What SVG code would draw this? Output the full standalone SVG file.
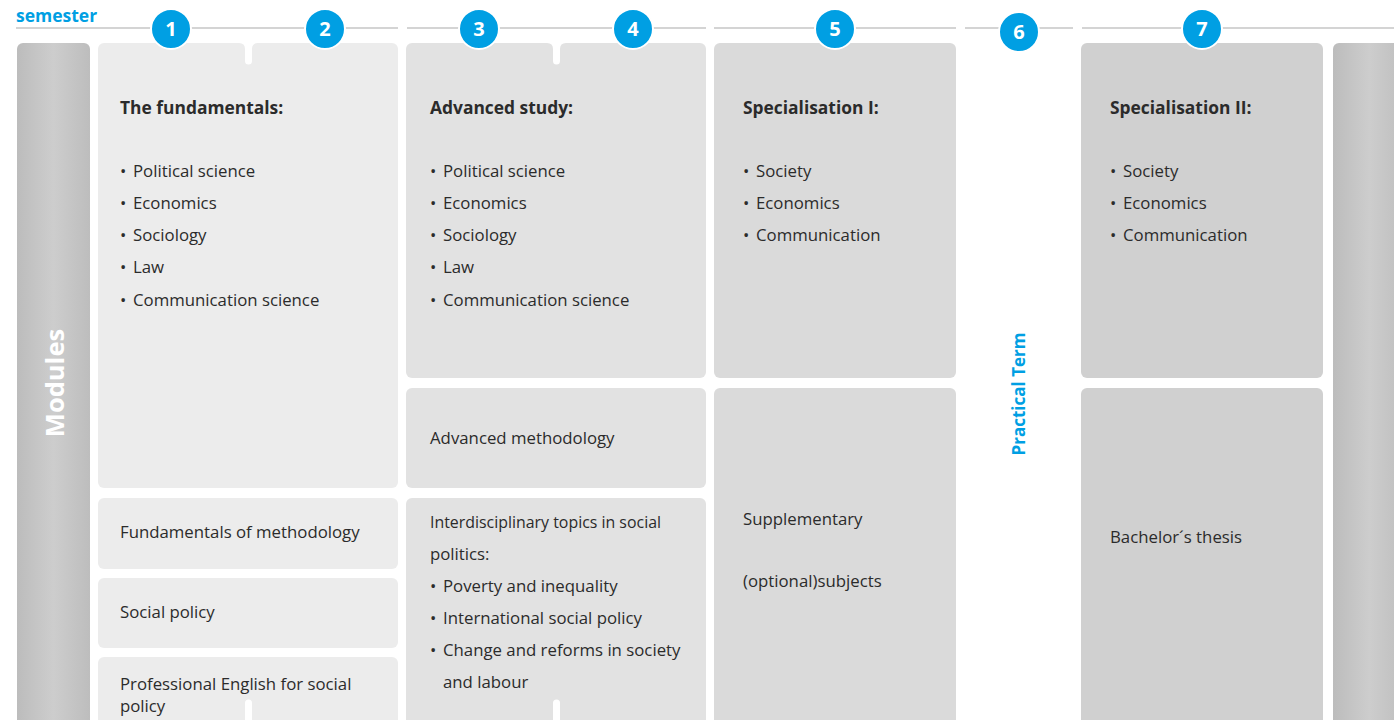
<svg xmlns="http://www.w3.org/2000/svg" width="1394" height="720" viewBox="0 0 1394 720">
<defs>
<linearGradient id="bar" x1="0" y1="0" x2="1" y2="0">
<stop offset="0" stop-color="#bcbcbc"/>
<stop offset="0.5" stop-color="#cdcdcd"/>
<stop offset="1" stop-color="#bdbdbd"/>
</linearGradient>
<style>
.t{font-family:"Open Sans","Liberation Sans",sans-serif;font-size:16.8px;fill:#2b2b2b}
.h{font-family:"Open Sans","Liberation Sans",sans-serif;font-size:17.4px;font-weight:700;fill:#2b2b2b}
.num{font-family:"Open Sans","Liberation Sans",sans-serif;font-size:20px;font-weight:700;fill:#fff;text-anchor:middle}
.blue{font-family:"Open Sans","Liberation Sans",sans-serif;font-weight:700;fill:#009fe3}
.line{stroke:#c6c6c6;stroke-width:1.5;fill:none}
.c{fill:#009fe3;stroke:#fff;stroke-width:2}
.b1{fill:#ececec}
.b2{fill:#e2e2e2}
.b3{fill:#dadada}
.b4{fill:#d0d0d0}
.notch{fill:#fff}
</style>
</defs>
<rect width="1394" height="720" fill="#fff"/>
<g id="header">
<text class="blue" x="16" y="22" font-size="17.5">semester</text>
<g id="connectors">
<line class="line" x1="16" y1="28" x2="398" y2="28"/>
<line class="line" x1="407" y1="28" x2="706" y2="28"/>
<line class="line" x1="714" y1="28" x2="956" y2="28"/>
<line class="line" x1="965" y1="28" x2="1073" y2="28"/>
<line class="line" x1="1082" y1="28" x2="1394" y2="28"/>
</g>
</g>
<g id="bars">
<rect x="17" y="43" width="73" height="690" rx="6" fill="url(#bar)"/>
<text class="blue" transform="translate(64,383) rotate(-90)" text-anchor="middle" font-size="25.5" style="fill:#fff">Modules</text>
<rect x="1333" y="43" width="73" height="690" rx="6" fill="url(#bar)"/>
</g>
<g id="col12">
<g id="fundamentals">
<rect class="b1" x="98" y="43" width="300" height="445" rx="6"/>
<path class="notch" d="M239 43 Q245 43 245 49 L245 61 A3.5 3.5 0 0 0 252 61 L252 49 Q252 43 258 43 Z"/>
<text class="h" x="120" y="114">The fundamentals:</text>
<text class="t" y="177"><tspan x="120">•</tspan><tspan x="133">Political science</tspan></text>
<text class="t" y="209"><tspan x="120">•</tspan><tspan x="133">Economics</tspan></text>
<text class="t" y="241"><tspan x="120">•</tspan><tspan x="133">Sociology</tspan></text>
<text class="t" y="273"><tspan x="120">•</tspan><tspan x="133">Law</tspan></text>
<text class="t" y="306"><tspan x="120">•</tspan><tspan x="133">Communication science</tspan></text>
</g>
<g id="methodology1">
<rect class="b1" x="98" y="498" width="300" height="71" rx="6"/>
<text class="t" x="120" y="538">Fundamentals of methodology</text>
</g>
<g id="socialpolicy">
<rect class="b1" x="98" y="578" width="300" height="70" rx="6"/>
<text class="t" x="120" y="618">Social policy</text>
</g>
<g id="english">
<rect class="b1" x="98" y="657" width="300" height="76" rx="6"/>
<path class="notch" d="M245 720 L245 703 A3.5 3.5 0 0 1 252 703 L252 720 Z"/>
<text class="t" x="120" y="690">Professional English for social</text>
<text class="t" x="120" y="712">policy</text>
</g>
</g>
<g id="col34">
<g id="advanced">
<rect class="b2" x="406" y="43" width="300" height="335" rx="6"/>
<path class="notch" d="M547 43 Q553 43 553 49 L553 61 A3.5 3.5 0 0 0 560 61 L560 49 Q560 43 566 43 Z"/>
<text class="h" x="430" y="114">Advanced study:</text>
<text class="t" y="177"><tspan x="430">•</tspan><tspan x="443">Political science</tspan></text>
<text class="t" y="209"><tspan x="430">•</tspan><tspan x="443">Economics</tspan></text>
<text class="t" y="241"><tspan x="430">•</tspan><tspan x="443">Sociology</tspan></text>
<text class="t" y="273"><tspan x="430">•</tspan><tspan x="443">Law</tspan></text>
<text class="t" y="306"><tspan x="430">•</tspan><tspan x="443">Communication science</tspan></text>
</g>
<g id="advmethod">
<rect class="b2" x="406" y="388" width="300" height="100" rx="6"/>
<text class="t" x="430" y="444">Advanced methodology</text>
</g>
<g id="interdisciplinary">
<rect class="b2" x="406" y="498" width="300" height="235" rx="6"/>
<path class="notch" d="M553 720 L553 703 A3.5 3.5 0 0 1 560 703 L560 720 Z"/>
<text class="t" x="430" y="528" textLength="231" lengthAdjust="spacingAndGlyphs">Interdisciplinary topics in social</text>
<text class="t" x="430" y="560">politics:</text>
<text class="t" y="592"><tspan x="430">•</tspan><tspan x="443">Poverty and inequality</tspan></text>
<text class="t" y="624"><tspan x="430">•</tspan><tspan x="443">International social policy</tspan></text>
<text class="t" y="656"><tspan x="430">•</tspan><tspan x="443">Change and reforms in society</tspan></text>
<text class="t" x="443" y="688">and labour</text>
</g>
</g>
<g id="col5">
<g id="spec1">
<rect class="b3" x="714" y="43" width="242" height="335" rx="6"/>
<text class="h" x="743" y="114">Specialisation I:</text>
<text class="t" y="177"><tspan x="743">•</tspan><tspan x="756">Society</tspan></text>
<text class="t" y="209"><tspan x="743">•</tspan><tspan x="756">Economics</tspan></text>
<text class="t" y="241"><tspan x="743">•</tspan><tspan x="756">Communication</tspan></text>
</g>
<g id="supplementary">
<rect class="b3" x="714" y="388" width="242" height="345" rx="6"/>
<text class="t" x="743" y="525">Supplementary</text>
<text class="t" x="743" y="587">(optional)subjects</text>
</g>
</g>
<g id="col6">
<text class="blue" transform="translate(1025,394) rotate(-90)" text-anchor="middle" font-size="17">Practical Term</text>
</g>
<g id="col7">
<g id="spec2">
<rect class="b4" x="1081" y="43" width="242" height="335" rx="6"/>
<text class="h" x="1110" y="114">Specialisation II:</text>
<text class="t" y="177"><tspan x="1110">•</tspan><tspan x="1123">Society</tspan></text>
<text class="t" y="209"><tspan x="1110">•</tspan><tspan x="1123">Economics</tspan></text>
<text class="t" y="241"><tspan x="1110">•</tspan><tspan x="1123">Communication</tspan></text>
</g>
<g id="thesis">
<rect class="b4" x="1081" y="388" width="242" height="345" rx="6"/>
<text class="t" x="1110" y="543">Bachelor´s thesis</text>
</g>
</g>
<g id="semesters">
<g id="s1"><circle class="c" cx="171" cy="29" r="20"/><text class="num" x="171" y="36">1</text></g>
<g id="s2"><circle class="c" cx="325" cy="29" r="20"/><text class="num" x="325" y="36">2</text></g>
<g id="s3"><circle class="c" cx="479" cy="29" r="20"/><text class="num" x="479" y="36">3</text></g>
<g id="s4"><circle class="c" cx="633" cy="29" r="20"/><text class="num" x="633" y="36">4</text></g>
<g id="s5"><circle class="c" cx="835" cy="29" r="20"/><text class="num" x="835" y="36">5</text></g>
<g id="s6"><circle class="c" cx="1019" cy="32" r="20"/><text class="num" x="1019" y="39">6</text></g>
<g id="s7"><circle class="c" cx="1202" cy="29" r="20"/><text class="num" x="1202" y="36">7</text></g>
</g>
</svg>
